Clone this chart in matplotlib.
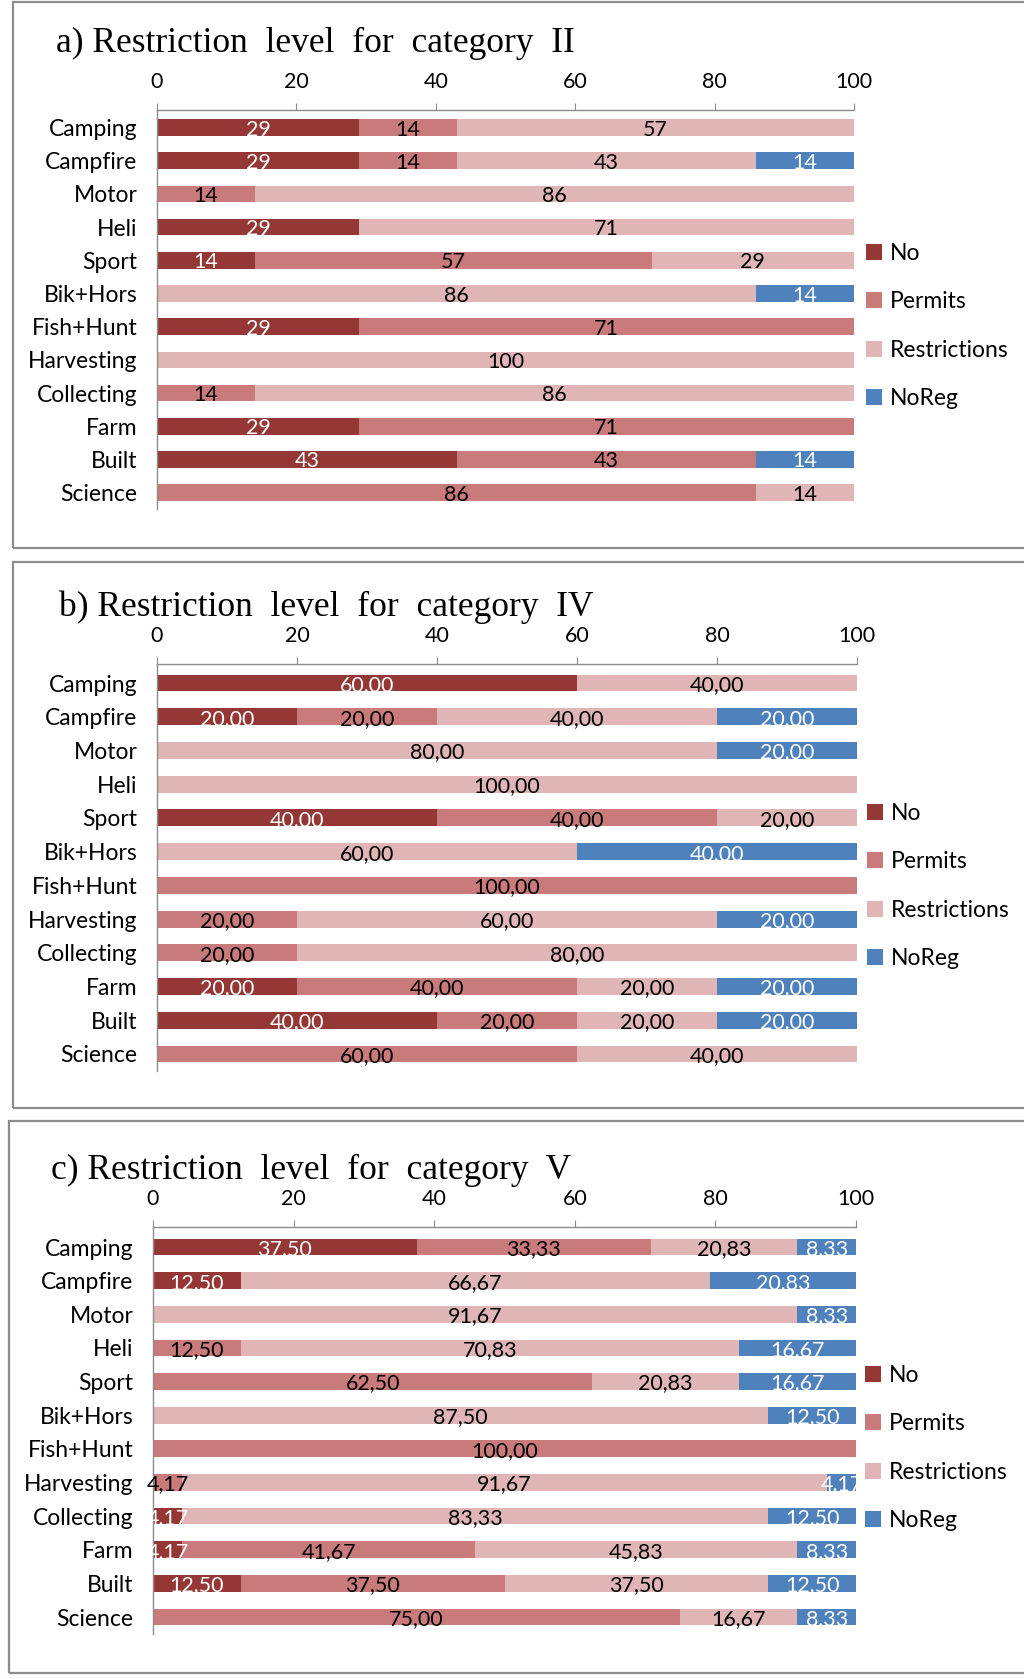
import numpy as np
import matplotlib
matplotlib.use("Agg")
import matplotlib.pyplot as plt
from matplotlib.patches import Rectangle

W, H = 1024, 1679

categories = ["Camping", "Campfire", "Motor", "Heli", "Sport", "Bik+Hors",
              "Fish+Hunt", "Harvesting", "Collecting", "Farm", "Built", "Science"]
series_names = ["No", "Permits", "Restrictions", "NoReg"]

# a) category II
a_no    = [29, 29, 0, 29, 14, 0, 29, 0, 0, 29, 43, 0]
a_perm  = [14, 14, 14, 0, 57, 0, 71, 0, 14, 71, 43, 86]
a_restr = [57, 43, 86, 71, 29, 86, 0, 100, 86, 0, 0, 14]
a_noreg = [0, 14, 0, 0, 0, 14, 0, 0, 0, 0, 14, 0]

# b) category IV
b_no    = [60, 20, 0, 0, 40, 0, 0, 0, 0, 20, 40, 0]
b_perm  = [0, 20, 0, 0, 40, 0, 100, 20, 20, 40, 20, 60]
b_restr = [40, 40, 80, 100, 20, 60, 0, 60, 80, 20, 20, 40]
b_noreg = [0, 20, 20, 0, 0, 40, 0, 20, 0, 20, 20, 0]

# c) category V
c_no    = [37.50, 12.50, 0, 0, 0, 0, 0, 0, 4.17, 4.17, 12.50, 0]
c_perm  = [33.33, 0, 0, 12.50, 62.50, 0, 100.00, 4.17, 0, 41.67, 37.50, 75.00]
c_restr = [20.83, 66.67, 91.67, 70.83, 20.83, 87.50, 0, 91.67, 83.33, 45.83, 37.50, 16.67]
c_noreg = [8.33, 20.83, 8.33, 16.67, 16.67, 12.50, 0, 4.17, 12.50, 8.33, 12.50, 8.33]

xticks = [0, 20, 40, 60, 80, 100]

colors = ["#953735", "#C87B7A", "#DFB5B5", "#4F81BD"]
label_colors = ["white", "black", "black", "white"]
grey = "#8C8C8C"

SANS = ["Lato", "DejaVu Sans"]
SERIF = ["Liberation Serif", "DejaVu Serif"]

fig = plt.figure(figsize=(W / 100, H / 100), dpi=100)


def fmt_int(v):
    return f"{v:.0f}"


def fmt_dec(v):
    return f"{v:.2f}".replace(".", ",")


panels = [
    dict(title="a) Restriction  level  for  category  II",
         data=[a_no, a_perm, a_restr, a_noreg], fmt=fmt_int,
         x0=157, x1=854, ytop=110, yc=127.5, ys=492.7,
         title_xy=(56, 43), legend_y=326, legend_x=866,
         box=(13, 2, 1030, 548)),
    dict(title="b) Restriction  level  for  category  IV",
         data=[b_no, b_perm, b_restr, b_noreg], fmt=fmt_dec,
         x0=157, x1=857, ytop=664, yc=683, ys=1054,
         title_xy=(59, 607), legend_y=886, legend_x=867,
         box=(13, 562, 1030, 1108)),
    dict(title="c) Restriction  level  for  category  V",
         data=[c_no, c_perm, c_restr, c_noreg], fmt=fmt_dec,
         x0=153, x1=856, ytop=1227, yc=1247, ys=1617,
         title_xy=(51, 1170), legend_y=1448, legend_x=865,
         box=(9, 1121, 1030, 1673)),
]

FS = 15.5    # data labels / tick labels
CFS = 16.5   # category labels / legend

n = len(categories)
ypos = np.arange(n)

for p in panels:
    # panel frame
    bx0, by0, bx1, by1 = p["box"]
    fig.patches.append(Rectangle((bx0 / W, 1 - by1 / H), (bx1 - bx0) / W, (by1 - by0) / H,
                                 transform=fig.transFigure, fill=False,
                                 edgecolor=grey, linewidth=1.6))
    s = (p["ys"] - p["yc"]) / (n - 1)
    ybot = p["ys"] + 0.5 * s
    ax = fig.add_axes([p["x0"] / W, 1 - ybot / H, (p["x1"] - p["x0"]) / W, (ybot - p["ytop"]) / H])
    top_off = (p["yc"] - p["ytop"]) / s

    left = np.zeros(n)
    handles = []
    for k, vals in enumerate(p["data"]):
        vals = np.array(vals, dtype=float)
        cont = ax.barh(ypos, vals, left=left, height=0.5, color=colors[k],
                       label=series_names[k], linewidth=0)
        labels = [p["fmt"](v) if v > 0 else "" for v in vals]
        texts = ax.bar_label(cont, labels=labels, label_type="center", color=label_colors[k],
                             fontsize=FS, family=SANS)
        for t in texts:
            t.set_va("center_baseline")
        handles.append(cont)
        left = left + vals

    ax.set_xlim(0, 100)
    ax.set_ylim(n - 0.5, -top_off)
    ax.set_yticks(ypos)
    ax.set_yticklabels(categories, family=SANS, fontsize=CFS)
    ax.set_xticks(xticks)
    ax.set_xticklabels([str(t) for t in xticks], family=SANS, fontsize=FS)
    ax.xaxis.tick_top()
    ax.tick_params(axis="x", direction="out", length=5, color=grey, pad=8)
    ax.tick_params(axis="y", length=0, pad=14)
    for side in ["right", "bottom"]:
        ax.spines[side].set_visible(False)
    for side in ["left", "top"]:
        ax.spines[side].set_color(grey)
        ax.spines[side].set_linewidth(1.0)

    fig.legend(handles=handles, labels=series_names, loc="center left",
               bbox_to_anchor=(p["legend_x"] / W, 1 - p["legend_y"] / H),
               bbox_transform=fig.transFigure, frameon=False,
               handlelength=0.7, handleheight=0.7, handletextpad=0.35,
               labelspacing=1.2, borderpad=0, borderaxespad=0,
               prop=dict(family=SANS, size=CFS))

    tx, ty = p["title_xy"]
    fig.text(tx / W, 1 - ty / H, p["title"], family=SERIF, fontsize=25.5,
             ha="left", va="center")

fig.savefig("out.png", dpi=100)
